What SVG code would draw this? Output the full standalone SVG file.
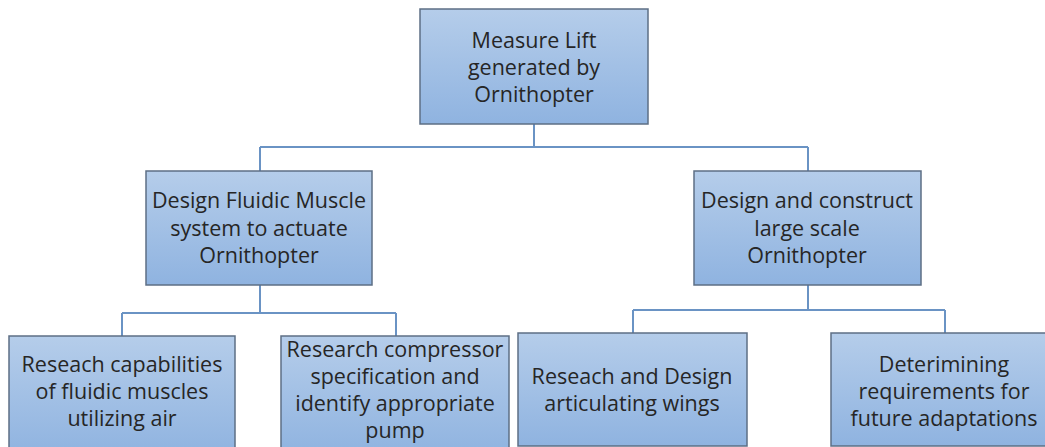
<svg xmlns="http://www.w3.org/2000/svg" width="1045" height="447" viewBox="0 0 1045 447">
<defs>
<linearGradient id="g" x1="0" y1="0" x2="0" y2="1">
<stop offset="0" stop-color="#b5cdea"/>
<stop offset="1" stop-color="#8fb3e0"/>
</linearGradient>
</defs>
<style>
.box{fill:url(#g);stroke:#5d6f85;stroke-width:1.5}
.t{font-family:"Open Sans","Liberation Sans",sans-serif;font-size:21.5px;fill:#262626;text-anchor:middle}
.c{fill:none;stroke:#6a93c4;stroke-width:2}
</style>
<rect width="1045" height="447" fill="#ffffff"/>
<g id="connectors">
<path class="c" d="M534 124V147M260 147H808M260 147V171M808 147V171"/>
<path class="c" d="M260 285V313M122 313H396M122 313V336M396 313V336"/>
<path class="c" d="M808 285V310M633 310H945M633 310V333M945 310V333"/>
</g>
<g id="n_top">
<rect class="box" x="420" y="9" width="228" height="115"/>
<text class="t" x="534" y="48">Measure Lift</text>
<text class="t" x="534" y="75">generated by</text>
<text class="t" x="534" y="102">Ornithopter</text>
</g>
<g id="n_fluidic">
<rect class="box" x="146" y="171" width="226" height="114"/>
<text class="t" x="259" y="208">Design Fluidic Muscle</text>
<text class="t" x="259" y="236">system to actuate</text>
<text class="t" x="259" y="263">Ornithopter</text>
</g>
<g id="n_construct">
<rect class="box" x="694" y="171" width="227" height="114"/>
<text class="t" x="807" y="208">Design and construct</text>
<text class="t" x="807" y="236">large scale</text>
<text class="t" x="807" y="263">Ornithopter</text>
</g>
<g id="n_capabilities">
<rect class="box" x="9" y="336" width="226" height="120"/>
<text class="t" x="122" y="372">Reseach capabilities</text>
<text class="t" x="122" y="399">of fluidic muscles</text>
<text class="t" x="122" y="426">utilizing air</text>
</g>
<g id="n_compressor">
<rect class="box" x="281" y="336" width="228" height="120"/>
<text class="t" x="395" y="357">Research compressor</text>
<text class="t" x="395" y="384">specification and</text>
<text class="t" x="395" y="411">identify appropriate</text>
<text class="t" x="395" y="438">pump</text>
</g>
<g id="n_wings">
<rect class="box" x="518" y="333" width="229" height="113"/>
<text class="t" x="632" y="384">Reseach and Design</text>
<text class="t" x="632" y="411">articulating wings</text>
</g>
<g id="n_future">
<rect class="box" x="831" y="333" width="220" height="113"/>
<text class="t" x="944" y="372">Deterimining</text>
<text class="t" x="944" y="399">requirements for</text>
<text class="t" x="944" y="426">future adaptations</text>
</g>
</svg>
